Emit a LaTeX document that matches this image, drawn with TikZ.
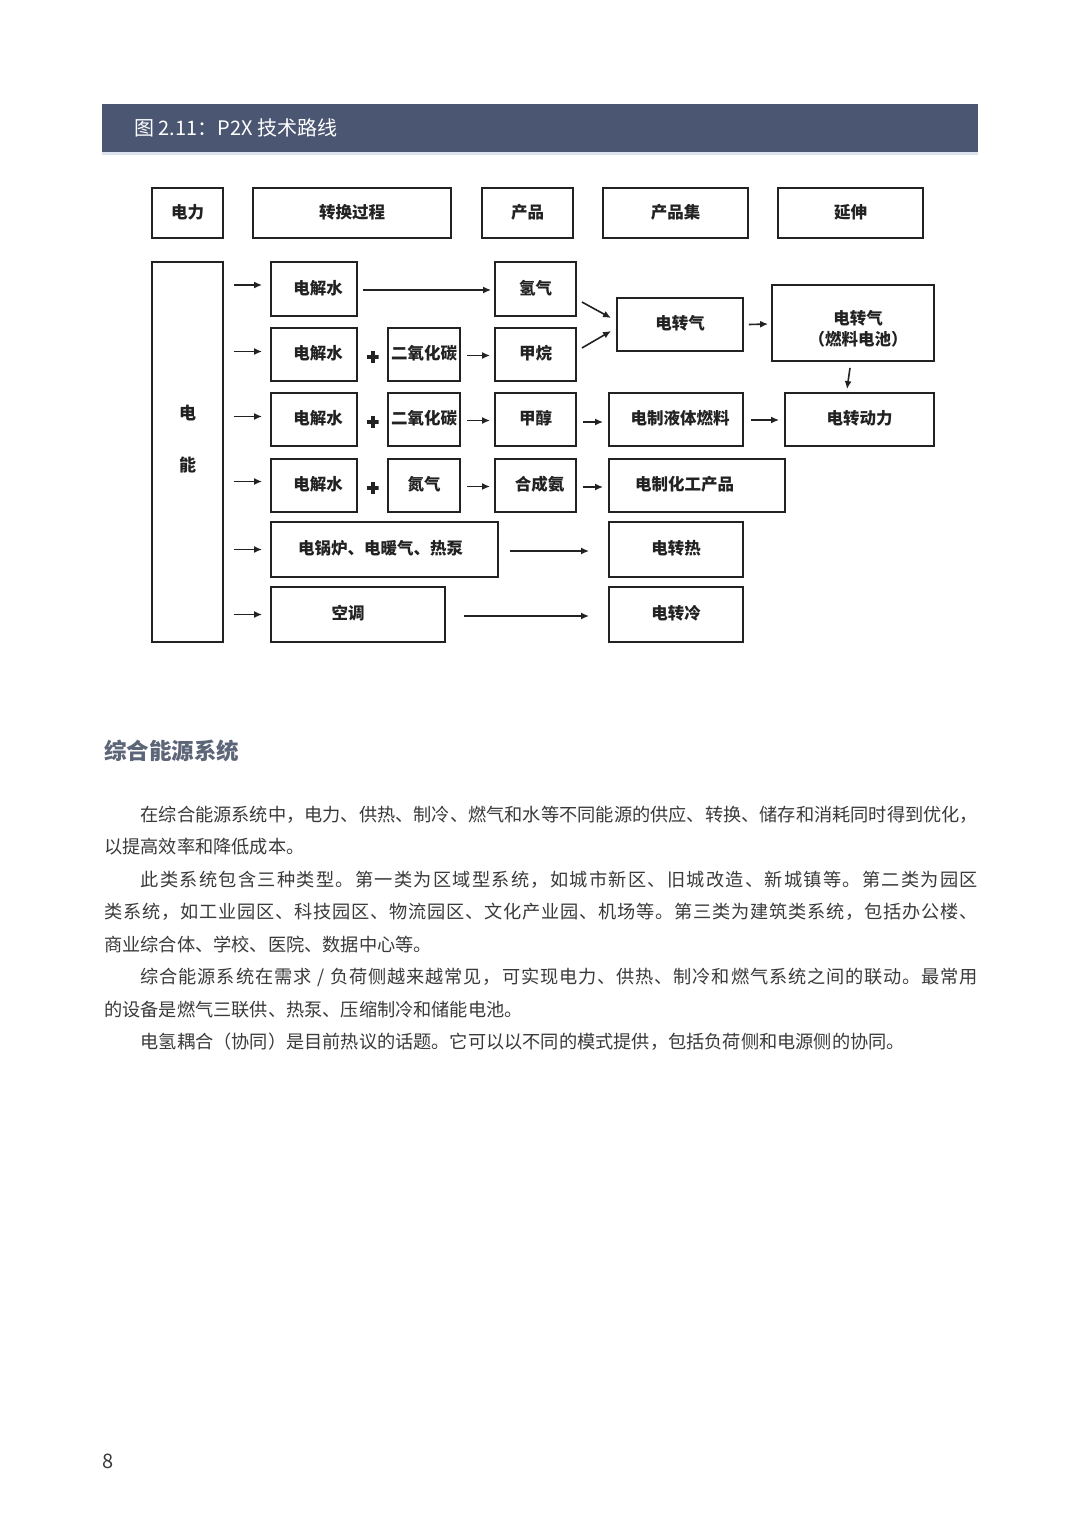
\documentclass[tikz,border=0pt]{standalone}
\usepackage{fontspec}
\setmainfont{Noto Sans CJK SC}
\usetikzlibrary{arrows.meta,calc}
\definecolor{band}{HTML}{4B5672}
\definecolor{bandline}{HTML}{DCE3EE}
\definecolor{headc}{HTML}{5C6678}
\definecolor{bodyc}{HTML}{3A3A3A}
\definecolor{boxc}{HTML}{222222}
\newcommand{\dfont}{\fontsize{16.5}{20}\selectfont\bfseries}
% spread characters of a line evenly over a given width
\def\spr#1{#1\spra}
\def\spra#1{\ifx#1\relax\else\hspace{0pt plus 1fil}#1\expandafter\spra\fi}
\newcommand{\jline}[1]{\makebox[874pt][s]{#1}}
\tikzset{
  bxbase/.style={draw=boxc, line width=1.8pt, inner sep=0pt, font=\dfont, text=boxc},
  bx/.style={bxbase, text height=1.15em, text depth=0.12em},
  ar/.style={draw=boxc, line width=1.6pt, -{Latex[length=8pt,width=7pt]}},
  pl/.style={minimum size=12pt, inner sep=0pt,
             path picture={\draw[boxc, line width=4pt]
               (path picture bounding box.north) -- (path picture bounding box.south)
               (path picture bounding box.west) -- (path picture bounding box.east);}},
  bl/.style={anchor=base west, inner sep=0pt, font=\fontsize{18.2}{22}\selectfont, text=bodyc}
}
\begin{document}
\begin{tikzpicture}[x=1pt,y=-1pt]
\useasboundingbox (0,0) rectangle (1080,1527);
\fill[white] (0,0) rectangle (1080,1527);

% title band
\fill[bandline] (102,151) rectangle (978,155);
\fill[band] (102,104) rectangle (978,152);
\node[anchor=west, inner sep=0pt, text=white, font=\fontsize{20}{24}\selectfont] (title) at (134,128) {图 2.11：P2X 技术路线};

% header row
\node[bx, minimum width=71, minimum height=50] (h1) at (187.5,213) {电力};
\node[bx, minimum width=198, minimum height=50] (h2) at (352,213) {转换过程};
\node[bx, minimum width=91, minimum height=50] (h3) at (527.5,213) {产品};
\node[bx, minimum width=145, minimum height=50] (h4) at (675.5,213) {产品集};
\node[bx, minimum width=145, minimum height=50] (h5) at (850.5,213) {延伸};

% tall box
\node[bxbase, minimum width=71, minimum height=380] (dn) at (187.5,452) {};
\node[inner sep=0pt, align=center, font=\fontsize{17}{52}\selectfont\bfseries, text=boxc] (dnt) at (187.5,439) {电\\能};

% row 1
\node[bx, minimum width=86, minimum height=54] (e1) at (314,289) {\hspace*{8pt}电解水};
\node[bx, minimum width=81, minimum height=54] (p1) at (535.5,289) {氢气};
% row 2
\node[bx, minimum width=86, minimum height=53] (e2) at (314,354.5) {\hspace*{8pt}电解水};
\node[bx, minimum width=72, minimum height=53] (c2) at (424,354.5) {二氧化碳};
\node[bx, minimum width=81, minimum height=53] (p2) at (535.5,354.5) {甲烷};
% row 3
\node[bx, minimum width=86, minimum height=53] (e3) at (314,419.5) {\hspace*{8pt}电解水};
\node[bx, minimum width=72, minimum height=53] (c3) at (424,419.5) {二氧化碳};
\node[bx, minimum width=81, minimum height=53] (p3) at (535.5,419.5) {甲醇};
% row 4
\node[bx, minimum width=86, minimum height=53] (e4) at (314,485.5) {\hspace*{8pt}电解水};
\node[bx, minimum width=72, minimum height=53] (c4) at (424,485.5) {氮气};
\node[bx, minimum width=81, minimum height=53] (p4) at (535.5,485.5) {\hspace*{8pt}合成氨};
% row 5, 6
\node[bx, minimum width=227, minimum height=55] (e5) at (384.5,549.5) {电锅炉、电暖气、热泵\hspace*{8pt}};
\node[bx, minimum width=174, minimum height=55] (e6) at (358,614.5) {空调\hspace*{20pt}};

% product sets
\node[bx, minimum width=126, minimum height=53] (s1) at (680,324.5) {电转气};
\node[bx, minimum width=134, minimum height=53] (s3) at (676,419.5) {\hspace*{8pt}电制液体燃料};
\node[bx, minimum width=176, minimum height=53] (s4) at (697,485.5) {电制化工产品\hspace*{25pt}};
\node[bx, minimum width=134, minimum height=55] (s5) at (676,549.5) {电转热};
\node[bx, minimum width=134, minimum height=55] (s6) at (676,614.5) {电转冷};

% extensions
\node[bxbase, minimum width=162, minimum height=76] (x1) at (853,323) {};
\node[inner sep=0pt, align=center, font=\fontsize{16.5}{21}\selectfont\bfseries, text=boxc] (x1t) at (858,328.5) {电转气\\（燃料电池）};
\node[bx, minimum width=149, minimum height=53] (x3) at (859.5,419.5) {电转动力};

% plus signs
\node[pl] (pl2) at ($(e2.east)!0.5!(c2.west)+(0,2)$) {};
\node[pl] (pl3) at ($(e3.east)!0.5!(c3.west)+(0,2)$) {};
\node[pl] (pl4) at ($(e4.east)!0.5!(c4.west)+(0,2)$) {};

% left short arrows
\foreach \r/\dy in {e1/-4, e2/-3, e3/-3, e4/-4, e5/0, e6/0}{
  \draw[ar] ($(dn.east |- \r.west)+(10,\dy)$) -- ($(\r.west)+(-8,\dy)$);
}

% row arrows
\draw[ar] ($(e1.east)+(5,1)$) -- ($(p1.west)+(-3,1)$);
\draw[ar] ($(c2.east)+(6,1)$) -- ($(p2.west)+(-4,1)$);
\draw[ar] ($(c3.east)+(6,1)$) -- ($(p3.west)+(-4,1)$);
\draw[ar] ($(c4.east)+(6,1)$) -- ($(p4.west)+(-4,1)$);
\draw[ar] ($(p1.east)+(5,13)$) -- ($(s1.west)+(-5,-6.5)$);
\draw[ar] ($(p2.east)+(5,-6.5)$) -- ($(s1.west)+(-5,6.5)$);
\draw[ar] ($(s1.east)+(5,0)$) -- ($(x1.west)+(-3,1)$);
\draw[ar] ($(x1.south)+(-3,6)$) -- ($(x3.north)+(-12.5,-3)$);
\draw[ar] ($(p3.east)+(6,2.5)$) -- ($(s3.west)+(-5,2.5)$);
\draw[ar] ($(s3.east)+(7,0.5)$) -- ($(x3.west)+(-5,0.5)$);
\draw[ar] ($(p4.east)+(6,1.5)$) -- ($(s4.west)+(-5,1.5)$);
\draw[ar] ($(e5.east)+(11,1.5)$) -- ($(s5.west)+(-19,1.5)$);
\draw[ar] ($(e6.east)+(18,1.5)$) -- ($(s6.west)+(-19,1.5)$);

% section heading
\node[anchor=west, inner sep=0pt, text=headc, font=\fontsize{22.5}{26}\selectfont\bfseries] (sec) at (104,751) {综合能源系统};

% body text
\node[bl] (l1) at (104,821) {\jline{\hspace*{2em}\spr 在综合能源系统中，电力、供热、制冷、燃气和水等不同能源的供应、转换、储存和消耗同时得到优化，\relax}};
\node[bl] (l2) at (104,853.5) {以提高效率和降低成本。};
\node[bl] (l3) at (104,886) {\jline{\hspace*{2em}\spr 此类系统包含三种类型。第一类为区域型系统，如城市新区、旧城改造、新城镇等。第二类为园区\relax}};
\node[bl] (l4) at (104,918.5) {\jline{\spr 类系统，如工业园区、科技园区、物流园区、文化产业园、机场等。第三类为建筑类系统，包括办公楼、\relax}};
\node[bl] (l5) at (104,951) {商业综合体、学校、医院、数据中心等。};
\node[bl] (l6) at (104,983.5) {\jline{\hspace*{2em}\spr 综合能源系统在需求\ /\ 负荷侧越来越常见，可实现电力、供热、制冷和燃气系统之间的联动。最常用\relax}};
\node[bl] (l7) at (104,1016) {的设备是燃气三联供、热泵、压缩制冷和储能电池。};
\node[bl] (l8) at (104,1048.5) {\hspace*{2em}电氢耦合（协同）是目前热议的话题。它可以以不同的模式提供，包括负荷侧和电源侧的协同。};

% page number
\node[anchor=west, inner sep=0pt, text=bodyc, font=\fontsize{20}{24}\selectfont] (pg) at (102,1461) {8};
\end{tikzpicture}
\end{document}
